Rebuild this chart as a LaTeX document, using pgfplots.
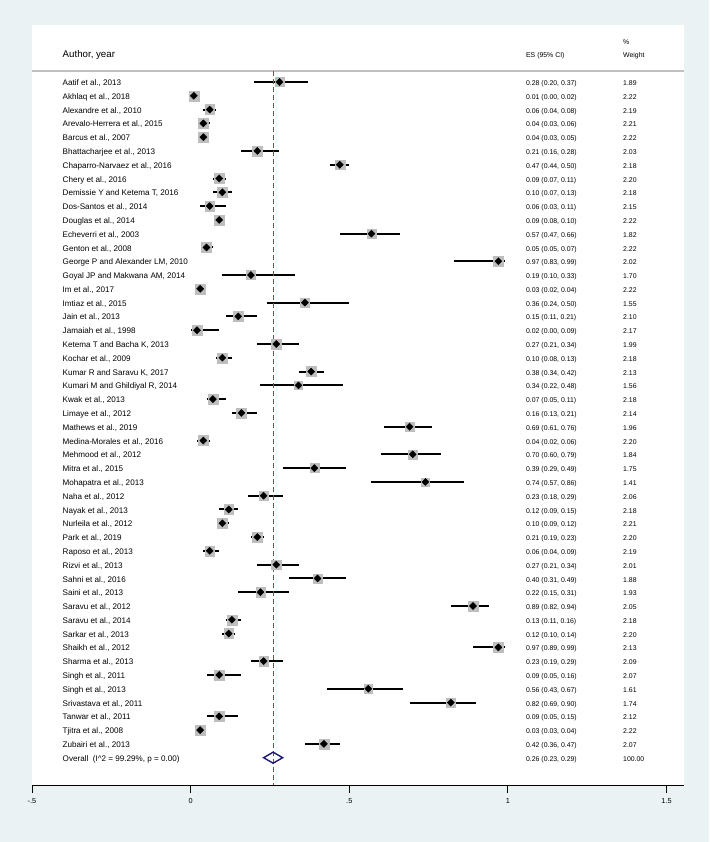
\documentclass[border=0pt]{standalone}
\usepackage{pgfplots}
\pgfplotsset{compat=1.18}
\usepackage{pgfplotstable}
\usetikzlibrary{backgrounds}
\usepackage{fontspec}
\setmainfont{Liberation Sans}
\definecolor{bgc}{RGB}{234,242,243}
\definecolor{boxc}{RGB}{190,190,190}
\definecolor{maroonline}{RGB}{190,45,80}
\definecolor{ovc}{RGB}{26,26,120}
\definecolor{sepc}{RGB}{192,192,192}
\newcommand{\namefont}{\fontsize{8.1}{9.5}\selectfont}
\newcommand{\numfont}{\fontsize{6.9}{8.5}\selectfont}
\newcommand{\headfont}{\fontsize{9.7}{11}\selectfont}
\tikzset{txt/.style={anchor=west, inner sep=0pt, text height=0.716em, text depth=0pt, text=black}}

\pgfplotstableread[col sep=semicolon]{
name;es;lo;hi;w
Aatif et al., 2013;0.28;0.20;0.37;1.89
Akhlaq et al., 2018;0.01;0.00;0.02;2.22
Alexandre et al., 2010;0.06;0.04;0.08;2.19
Arevalo-Herrera et al., 2015;0.04;0.03;0.06;2.21
Barcus et al., 2007;0.04;0.03;0.05;2.22
Bhattacharjee et al., 2013;0.21;0.16;0.28;2.03
Chaparro-Narvaez et al., 2016;0.47;0.44;0.50;2.18
Chery et al., 2016;0.09;0.07;0.11;2.20
Demissie Y and Ketema T, 2016;0.10;0.07;0.13;2.18
Dos-Santos et al., 2014;0.06;0.03;0.11;2.15
Douglas et al., 2014;0.09;0.08;0.10;2.22
Echeverri et al., 2003;0.57;0.47;0.66;1.82
Genton et al., 2008;0.05;0.05;0.07;2.22
George P and Alexander LM, 2010;0.97;0.83;0.99;2.02
Goyal JP and Makwana AM, 2014;0.19;0.10;0.33;1.70
Im et al., 2017;0.03;0.02;0.04;2.22
Imtiaz et al., 2015;0.36;0.24;0.50;1.55
Jain et al., 2013;0.15;0.11;0.21;2.10
Jamaiah et al., 1998;0.02;0.00;0.09;2.17
Ketema T and Bacha K, 2013;0.27;0.21;0.34;1.99
Kochar et al., 2009;0.10;0.08;0.13;2.18
Kumar R and Saravu K, 2017;0.38;0.34;0.42;2.13
Kumari M and Ghildiyal R, 2014;0.34;0.22;0.48;1.56
Kwak et al., 2013;0.07;0.05;0.11;2.18
Limaye et al., 2012;0.16;0.13;0.21;2.14
Mathews et al., 2019;0.69;0.61;0.76;1.96
Medina-Morales et al., 2016;0.04;0.02;0.06;2.20
Mehmood et al., 2012;0.70;0.60;0.79;1.84
Mitra et al., 2015;0.39;0.29;0.49;1.75
Mohapatra et al., 2013;0.74;0.57;0.86;1.41
Naha et al., 2012;0.23;0.18;0.29;2.06
Nayak et al., 2013;0.12;0.09;0.15;2.18
Nurleila et al., 2012;0.10;0.09;0.12;2.21
Park et al., 2019;0.21;0.19;0.23;2.20
Raposo et al., 2013;0.06;0.04;0.09;2.19
Rizvi et al., 2013;0.27;0.21;0.34;2.01
Sahni et al., 2016;0.40;0.31;0.49;1.88
Saini et al., 2013;0.22;0.15;0.31;1.93
Saravu et al., 2012;0.89;0.82;0.94;2.05
Saravu et al., 2014;0.13;0.11;0.16;2.18
Sarkar et al., 2013;0.12;0.10;0.14;2.20
Shaikh et al., 2012;0.97;0.89;0.99;2.13
Sharma et al., 2013;0.23;0.19;0.29;2.09
Singh et al., 2011;0.09;0.05;0.16;2.07
Singh et al., 2013;0.56;0.43;0.67;1.61
Srivastava et al., 2011;0.82;0.69;0.90;1.74
Tanwar et al., 2011;0.09;0.05;0.15;2.12
Tjitra et al., 2008;0.03;0.03;0.04;2.22
Zubairi et al., 2013;0.42;0.36;0.47;2.07
}\data

\begin{document}
\begin{tikzpicture}
\begin{axis}[
  name=ax,
  scale only axis, width=652pt, height=760pt,
  xmin=-0.5, xmax=1.555, ymin=-51.98, ymax=3.133,
  axis background/.style={fill=white},
  axis x line=bottom, axis y line=none,
  axis line style={-, black, line width=0.9pt},
  xtick={-0.5,0,0.5,1,1.5}, xticklabels={-.5,0,.5,1,1.5},
  tick align=outside, major tick length=8pt,
  tick style={black, line width=0.9pt},
  xticklabel style={font=\fontsize{7.3}{8}\selectfont, inner sep=1pt, yshift=-4pt},
  clip=false,
  /pgf/number format/fixed, /pgf/number format/fixed zerofill,
  /pgf/number format/precision=2, /pgf/number format/assume math mode=true,
]
% header separator
\draw[sepc, line width=1.2pt] (axis cs:-0.5,-0.202) -- (axis cs:1.555,-0.202);
% CI lines
\addplot[only marks, mark=none, black, forget plot,
  error bars/.cd, x dir=both, x explicit, error mark=none,
  error bar style={black, line width=2pt}]
  table[x=es, y expr=-\coordindex-1,
        x error plus expr=\thisrow{hi}-\thisrow{es},
        x error minus expr=\thisrow{es}-\thisrow{lo}] {\data};
% weight boxes
\addplot[scatter, only marks, mark=square*, forget plot,
  scatter/use mapped color={draw=boxc, fill=boxc},
  visualization depends on={3.35*sqrt(\thisrow{w}) \as \msz},
  scatter/@pre marker code/.append style={/tikz/mark size=\msz}]
  table[x=es, y expr=-\coordindex-1] {\data};
% reference line (pooled estimate)
\addplot[draw=maroonline, line width=1pt, dash pattern=on 5pt off 3pt, mark=none, forget plot]
  table[row sep=\\] {x y\\ 0.26 -0.202\\ 0.26 -51.98\\};
% point estimates
\addplot[only marks, mark=square*, mark size=2.5pt, forget plot,
  mark options={rotate=45, fill=black, draw=black}]
  table[x=es, y expr=-\coordindex-1] {\data};
% study names
\addplot[only marks, mark=none, forget plot, point meta=explicit symbolic,
  nodes near coords,
  nodes near coords style={txt, font=\namefont}]
  table[x expr=-0.4038, y expr=-\coordindex-1, meta=name] {\data};
% ES (95% CI)
\addplot[only marks, mark=none, forget plot, point meta=\thisrow{es},
  visualization depends on={\thisrow{lo}\as\cilo},
  visualization depends on={\thisrow{hi}\as\cihi},
  nodes near coords={\pgfmathprintnumber{\pgfplotspointmeta} (\pgfmathprintnumber{\cilo}, \pgfmathprintnumber{\cihi})},
  nodes near coords style={txt, font=\numfont}]
  table[x expr=1.0568, y expr=-\coordindex-1] {\data};
% weights
\addplot[only marks, mark=none, forget plot, point meta=\thisrow{w},
  nodes near coords,
  nodes near coords style={txt, font=\numfont}]
  table[x expr=1.3628, y expr=-\coordindex-1] {\data};
% overall
\addplot[ovc, line width=1.4pt, forget plot] coordinates {(0.23,-50) (0.26,-49.6) (0.29,-50) (0.26,-50.4)} --cycle;
\node[txt, font=\namefont] at (axis cs:-0.4038,-50) {Overall\ \ (I\^{}2 = 99.29\%, p = 0.00)};
\node[txt, font=\numfont] at (axis cs:1.0568,-50) {0.26 (0.23, 0.29)};
\node[txt, font=\numfont] at (axis cs:1.3628,-50) {100.00};
% headers
\node[txt, font=\headfont] at (axis cs:-0.4038,1.03) {Author, year};
\node[txt, font=\numfont] at (axis cs:1.0568,1.03) {ES (95\% CI)};
\node[txt, font=\numfont] at (axis cs:1.3628,1.97) {\%};
\node[txt, font=\numfont] at (axis cs:1.3628,1.03) {Weight};
\end{axis}
\begin{scope}[on background layer]
\fill[bgc] ([shift={(-32pt,-57pt)}]ax.south west) rectangle ++(709pt,842pt);
\end{scope}
\pgfresetboundingbox
\useasboundingbox ([shift={(-32pt,-57pt)}]ax.south west) rectangle ++(709pt,842pt);
\end{tikzpicture}
\end{document}
